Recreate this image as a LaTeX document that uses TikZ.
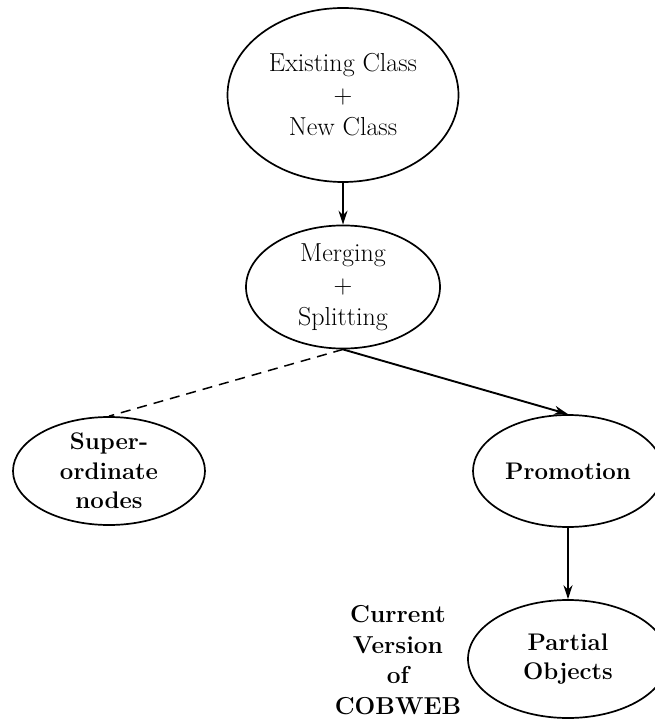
\documentclass[tikz,border=0pt]{standalone}
\usepackage{fontspec}
\usetikzlibrary{shapes.geometric,arrows.meta}
\begin{document}
\begin{tikzpicture}[x=1pt,y=-1pt,
  oval/.style={draw,ellipse,line width=1.7pt,inner sep=0pt,align=center,
    font=\fontsize{26}{32}\selectfont},
  boldoval/.style={oval,font=\fontsize{24}{29.5}\selectfont\bfseries},
  link/.style={line width=1.9pt,-{Stealth[length=14pt,width=9pt]}},
  weak/.style={line width=1.5pt,dash pattern=on 10pt off 7pt}]
  \useasboundingbox (0,0) rectangle (654,719);
  % top level: classes being combined
  \node[oval,minimum width=231pt,minimum height=174pt] (combine) at (343,95)
    {Existing Class\\+\\New Class};
  \node[oval,minimum width=194pt,minimum height=112pt] (merge) at (343,287)
    {Merging\\+\\Splitting};
  % operators derived from merging and splitting
  \node[boldoval,minimum width=192pt,minimum height=108pt] (super) at (109,471)
    {Super-\\ordinate\\nodes};
  \node[boldoval,minimum width=190pt,minimum height=112pt] (promo) at (568,471)
    {Promotion};
  \node[boldoval,minimum width=200pt,minimum height=118pt] (partial) at (568,659)
    {Partial\\Objects};
  % side caption
  \node[align=center,font=\fontsize{24.5}{30.5}\selectfont\bfseries] (caption) at (398,660)
    {Current\\Version\\of\\COBWEB};
  % connectors
  \draw[link] (combine.south) -- (merge.north);
  \draw[link] (merge.south) -- (promo.north);
  \draw[weak] (merge.south) -- (super.north);
  \draw[link] (promo.south) -- (partial.north);
\end{tikzpicture}
\end{document}
